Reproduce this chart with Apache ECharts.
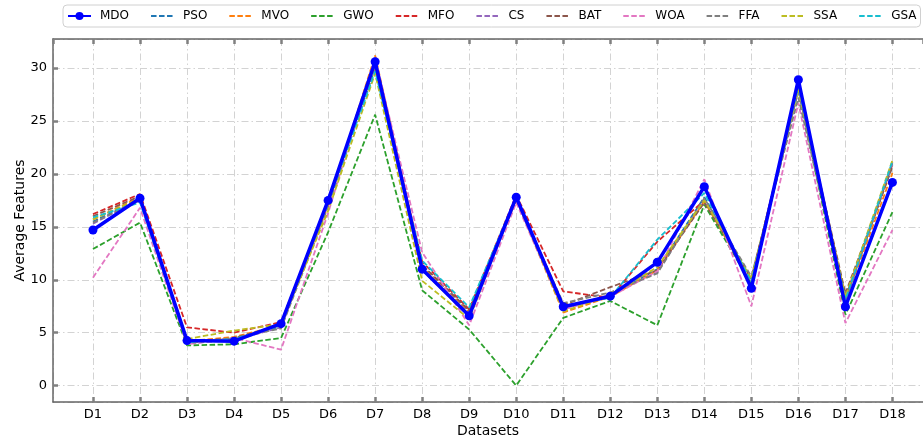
<!DOCTYPE html>
<html lang="en">
<head>
<meta charset="UTF-8">
<title>Average Features</title>
<script src="https://cdn.jsdelivr.net/npm/echarts@6/dist/echarts.min.js"></script>
<style>
    html, body { margin: 0; padding: 0; background: #fff; }
    #chart { width: 923px; height: 438px; }
</style>
</head>
<body>
<div id="chart"></div>
<script>
var datasets = ['D1','D2','D3','D4','D5','D6','D7','D8','D9','D10','D11','D12','D13','D14','D15','D16','D17','D18'];
var yTicks = [0, 5, 10, 15, 20, 25, 30];

var MDO = [14.7, 17.7, 4.25, 4.2, 5.85, 17.5, 30.6, 11.0, 6.6, 17.8, 7.45, 8.45, 11.65, 18.8, 9.2, 28.9, 7.45, 19.2];
var PSO = [15.5, 17.6, 4.1, 4.4, 5.6, 17.2, 30.0, 11.3, 7.0, 17.7, 7.3, 8.5, 11.0, 17.8, 10.0, 28.0, 8.2, 20.8];
var MVO = [15.7, 17.8, 4.2, 4.6, 5.7, 17.0, 31.2, 11.2, 6.9, 17.6, 6.9, 8.4, 10.9, 17.4, 9.8, 28.2, 8.0, 20.1];
var GWO = [12.9, 15.4, 3.8, 3.9, 4.5, 14.5, 25.6, 9.0, 5.3, 0.0, 6.4, 8.0, 5.7, 17.1, 9.6, 28.0, 6.7, 16.4];
var MFO = [16.2, 18.1, 5.5, 5.0, 6.0, 17.3, 30.2, 11.7, 7.2, 18.0, 8.9, 8.3, 13.6, 17.5, 10.0, 28.4, 8.3, 20.9];
var CS  = [15.3, 17.6, 4.0, 4.3, 5.5, 17.1, 31.0, 11.1, 6.8, 17.6, 7.2, 8.6, 10.7, 17.6, 9.9, 27.9, 8.1, 21.0];
var BAT = [16.0, 17.9, 4.1, 4.5, 5.7, 17.2, 30.3, 11.4, 7.1, 17.8, 7.6, 9.3, 10.9, 17.3, 10.1, 28.1, 8.7, 20.7];
var WOA = [10.2, 16.8, 3.9, 4.5, 3.4, 16.3, 30.9, 12.6, 5.7, 17.3, 7.2, 8.4, 10.8, 19.5, 7.5, 26.7, 5.9, 14.7];
var FFA = [15.4, 17.5, 4.0, 4.5, 5.4, 16.9, 30.1, 10.9, 6.6, 17.6, 7.8, 8.8, 10.6, 17.7, 10.3, 27.2, 8.0, 21.1];
var SSA = [15.7, 17.7, 4.4, 5.2, 5.8, 16.5, 29.5, 9.9, 6.3, 17.7, 7.0, 8.5, 11.2, 17.5, 10.1, 28.0, 8.4, 21.3];
var GSA = [15.9, 17.3, 4.1, 4.4, 5.7, 17.3, 29.7, 11.8, 7.4, 17.8, 7.5, 8.3, 13.8, 18.2, 9.8, 28.3, 8.1, 21.2];

var others = [
    ['PSO', PSO, '#1f77b4'],
    ['MVO', MVO, '#ff7f0e'],
    ['GWO', GWO, '#2ca02c'],
    ['MFO', MFO, '#d62728'],
    ['CS',  CS,  '#9467bd'],
    ['BAT', BAT, '#8c564b'],
    ['WOA', WOA, '#e377c2'],
    ['FFA', FFA, '#7f7f7f'],
    ['SSA', SSA, '#bcbd22'],
    ['GSA', GSA, '#17becf']
];

function pairs(arr) {
    return arr.map(function (v, i) { return [i, v]; });
}

var series = [{
    name: 'MDO',
    type: 'line',
    data: pairs(MDO),
    color: '#0000ff',
    symbol: 'circle',
    symbolSize: 9,
    z: 5,
    lineStyle: { width: 3.5, color: '#0000ff' },
    itemStyle: { color: '#0000ff' }
}];
others.forEach(function (o) {
    series.push({
        name: o[0],
        type: 'line',
        data: pairs(o[1]),
        color: o[2],
        symbol: 'none',
        z: 2,
        lineStyle: { width: 1.8, color: o[2], type: [5.5, 2.5] }
    });
});

// legend entries: only MDO keeps its marker
var legendData = [{ name: 'MDO' }].concat(others.map(function (o) {
    return { name: o[0], itemStyle: { opacity: 0 } };
}));

var gridLine = { show: true, lineStyle: { color: '#d3d3d3', width: 1, type: [7, 3, 1.5, 3] } };
var spine = { show: true, onZero: false, lineStyle: { color: '#666', width: 1.5 } };
var tick = { show: true, inside: true, length: 5, lineStyle: { color: '#808080', width: 2.5 } };
var font = 'DejaVu Sans';

var chart = echarts.init(document.getElementById('chart'));
chart.setOption({
    animation: false,
    textStyle: { fontFamily: font },
    legend: {
        left: 63,
        top: 5,
        padding: [5, 4],
        itemWidth: 23,
        itemHeight: 10,
        itemGap: 21,
        backgroundColor: '#fff',
        borderColor: '#d0d0d0',
        borderWidth: 1,
        borderRadius: 4,
        textStyle: { fontSize: 12, color: '#000', fontFamily: font, padding: [0, 0, 0, 4] },
        data: legendData
    },
    grid: { left: 53, right: 0, top: 39, bottom: 36, outerBoundsMode: 'none', containLabel: false },
    xAxis: [{
        type: 'value',
        min: -0.85,
        max: 17.65,
        splitNumber: 18,
        minInterval: 1,
        maxInterval: 1,
        name: 'Datasets',
        nameLocation: 'middle',
        nameGap: 22,
        nameMoveOverlap: false,
        nameTextStyle: { fontSize: 14, color: '#000', fontFamily: font },
        axisLine: spine,
        axisTick: tick,
        splitLine: gridLine,
        axisLabel: {
            fontSize: 13, color: '#000', margin: 6, fontFamily: font,
            showMinLabel: false, showMaxLabel: false,
            formatter: function (v) {
                return (Math.abs(v - Math.round(v)) < 1e-6 && datasets[Math.round(v)]) || '';
            }
        }
    }, {
        type: 'value',
        position: 'top',
        min: -0.85,
        max: 17.65,
        splitNumber: 18,
        minInterval: 1,
        maxInterval: 1,
        axisLine: spine,
        axisTick: tick,
        axisLabel: { show: false },
        splitLine: { show: false }
    }],
    yAxis: {
        type: 'value',
        min: -1.55,
        max: 32.75,
        splitNumber: 7,
        minInterval: 5,
        maxInterval: 5,
        name: 'Average Features',
        nameLocation: 'middle',
        nameGap: 26,
        nameMoveOverlap: false,
        nameTextStyle: { fontSize: 14, color: '#000', fontFamily: font },
        axisLine: spine,
        axisTick: tick,
        splitLine: gridLine,
        axisLabel: {
            fontSize: 13, color: '#000', margin: 6, fontFamily: font,
            showMinLabel: false, showMaxLabel: false,
            formatter: function (v) {
                return yTicks.indexOf(Math.round(v * 1000) / 1000) >= 0 ? String(v) : '';
            }
        }
    },
    series: series
});
</script>
</body>
</html>
